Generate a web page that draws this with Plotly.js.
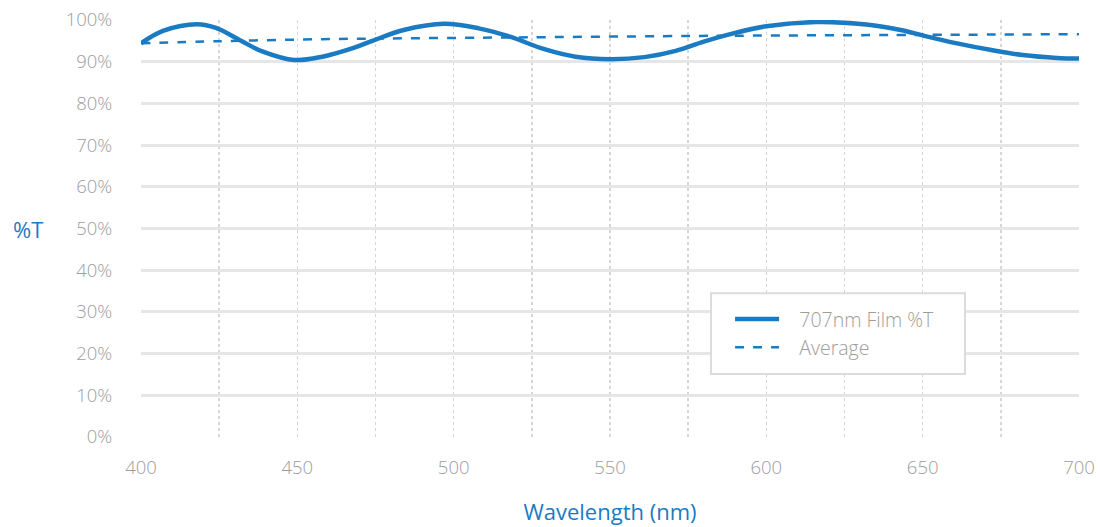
<!DOCTYPE html>
<html>
<head>
<meta charset="utf-8">
<script src="https://cdn.plot.ly/plotly-3.0.1.min.js"></script>
<style>html,body{margin:0;padding:0;background:#fff;}#chart{width:1100px;height:527px;}</style>
</head>
<body>
<div id="chart"></div>
<script>
const wavelength = [400, 407, 418, 424, 432, 439, 449, 458, 468, 474, 484, 497, 508, 518, 529, 539, 550, 561, 571, 580, 590, 600, 616, 632, 643, 650, 661, 672, 682, 693, 700];
const filmT = [94.4, 97.4, 99.0, 98.1, 95.0, 92.4, 90.4, 91.2, 93.3, 95.0, 97.6, 99.1, 98.0, 96.0, 93.0, 91.2, 90.6, 91.1, 92.6, 94.8, 96.9, 98.5, 99.5, 98.9, 97.6, 96.3, 94.4, 92.8, 91.6, 90.9, 90.75];
const avgWavelength = [400, 424, 458, 516, 582, 640, 700];
const avgT = [94.4, 94.9, 95.4, 95.8, 96.2, 96.4, 96.6];
const seriesNames = ["707nm Film %T", "Average"];
const xGridVals = [400, 425, 450, 475, 500, 525, 550, 575, 600, 625, 650, 675, 700];
const xTickText = ["400", "", "450", "", "500", "", "550", "", "600", "", "650", "", "700"];
const yTickVals = [0, 10, 20, 30, 40, 50, 60, 70, 80, 90, 100];
const yTickText = yTickVals.map(v => v + "%");

const blue = "#1b7bc2";
const grey = "#9d9d9d";
const font = "'Open Sans', 'Noto Sans', sans-serif";
const pad = "\u00a0\u00a0\u00a0";

const traces = [
  {x: wavelength, y: filmT, name: pad + seriesNames[0], mode: "lines",
   line: {color: blue, width: 4.5, shape: "spline", smoothing: 1}},
  {x: avgWavelength, y: avgT, name: pad + seriesNames[1], mode: "lines",
   line: {color: blue, width: 2.5, dash: "dash", shape: "spline", smoothing: 0.8}}
];

const layout = {
  width: 1100, height: 527,
  margin: {l: 141, r: 21, t: 20, b: 90},
  paper_bgcolor: "#fff", plot_bgcolor: "#fff",
  font: {family: font, color: grey, size: 18},
  showlegend: true,
  legend: {x: 0.628, y: 0.329, xanchor: "left", yanchor: "top",
    borderwidth: 0, bgcolor: "rgba(0,0,0,0)",
    font: {family: font, size: 19.5, color: grey, weight: 300},
    tracegroupgap: 0, itemwidth: 44},
  shapes: [
    {type: "rect", xref: "paper", yref: "paper", x0: 0.6077, x1: 0.8785, y0: 0.151, y1: 0.345,
     line: {color: "#dcdcdc", width: 2}, fillcolor: "#ffffff", layer: "above"}
  ],
  xaxis: {range: [400, 700], tickvals: xGridVals, ticktext: xTickText, showline: false, zeroline: false,
    showgrid: true, gridcolor: "#d6d6d6", griddash: "dot", gridwidth: 1.5,
    ticks: "outside", ticklen: 14, tickcolor: "rgba(0,0,0,0)",
    tickfont: {family: font, size: 18.5, color: grey, weight: 300},
    title: {text: "Wavelength (nm)", font: {family: font, size: 22, color: blue}, standoff: 26},
    fixedrange: true},
  yaxis: {range: [0, 100], tickvals: yTickVals, ticktext: yTickText, zeroline: false, showline: false,
    showgrid: true, gridcolor: "#e5e6e8", gridwidth: 3,
    ticks: "outside", ticklen: 24, tickcolor: "rgba(0,0,0,0)",
    tickfont: {family: font, size: 18.5, color: grey, weight: 300},
    fixedrange: true},
  annotations: [
    {text: "%T", xref: "paper", yref: "paper", x: -0.121, y: 0.5, xanchor: "center", yanchor: "middle",
     showarrow: false, font: {family: font, size: 22, color: blue}}
  ]
};

Plotly.newPlot("chart", traces, layout, {displayModeBar: false, staticPlot: true});
</script>
</body>
</html>
